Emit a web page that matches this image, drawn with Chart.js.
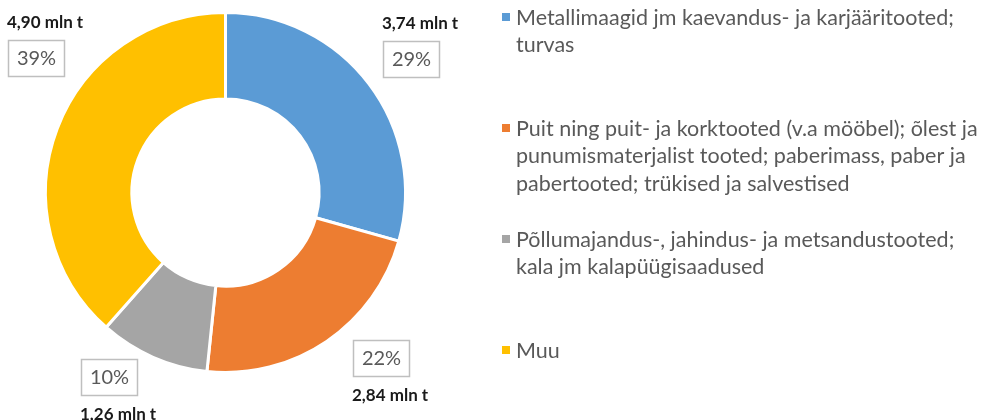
<!DOCTYPE html>
<html>
<head>
<meta charset="utf-8">
<script src="https://cdn.jsdelivr.net/npm/chart.js@4/dist/chart.umd.min.js"></script>
<style>
  html, body { margin: 0; padding: 0; background: #fff; }
  #wrap { width: 983px; height: 420px; position: relative; }
</style>
</head>
<body>
<div id="wrap"><canvas id="c"></canvas></div>
<script>
// Kaubagrupid (legendi read on käsitsi murtud nagu originaalis)
const categories = [
  ['Metallimaagid jm kaevandus- ja karjääritooted;', 'turvas'],
  ['Puit ning puit- ja korktooted (v.a mööbel); õlest ja', 'punumismaterjalist tooted; paberimass, paber ja', 'pabertooted; trükised ja salvestised'],
  ['Põllumajandus-, jahindus- ja metsandustooted;', 'kala jm kalapüügisaadused'],
  ['Muu'],
];
const tonnes = [3.74, 2.84, 1.26, 4.90];           // mln t
const percentLabels = ['29%', '22%', '10%', '39%'];
const colors = ['#5B9BD5', '#ED7D31', '#A5A5A5', '#FFC000'];

// Siltide asukoht: nurk (kraadid päripäeva ülevalt) ja kaugus raadiuse kordajana
const labelPlacement = [
  { angle: 54.4, dist: 1.27, value: 'above' },
  { angle: 136.8, dist: 1.258, value: 'below' },
  { angle: 212.2, dist: 1.214, value: 'below' },
  { angle: 305.4, dist: 1.29, value: 'above' },
];

const FONT = 'Lato, "Open Sans", sans-serif';
const fmt = (v) => v.toFixed(2).replace('.', ',') + ' mln t';

const sliceLabels = {
  id: 'sliceLabels',
  afterDatasetsDraw(chart) {
    const { ctx } = chart;
    const meta = chart.getDatasetMeta(0);
    ctx.save();
    meta.data.forEach((arc, i) => {
      const p = labelPlacement[i];
      const a = (p.angle - 90) * Math.PI / 180;
      const r = arc.outerRadius * p.dist;
      const cx = arc.x + Math.cos(a) * r;
      const cy = arc.y + Math.sin(a) * r;
      const bw = 56, bh = 36;
      const bx = Math.round(cx - bw / 2), by = Math.round(cy - bh / 2);
      ctx.lineWidth = 1.5;
      ctx.strokeStyle = '#BFBFBF';
      ctx.strokeRect(bx + 0.5, by + 0.5, bw, bh);
      ctx.fillStyle = '#595959';
      ctx.font = '20px ' + FONT;
      ctx.textAlign = 'center';
      ctx.textBaseline = 'middle';
      ctx.fillText(percentLabels[i], bx + bw / 2 + 0.5, by + bh / 2 + 1);
      ctx.fillStyle = '#1A1A1A';
      ctx.font = 'bold 17px ' + FONT;
      ctx.textAlign = 'left';
      ctx.textBaseline = 'alphabetic';
      const ty = p.value === 'above' ? by - 12 : by + bh + 25;
      ctx.fillText(fmt(tonnes[i]), bx - 1, ty);
    });
    ctx.restore();
  },
};

const sideLegend = {
  id: 'sideLegend',
  afterDraw(chart) {
    const { ctx } = chart;
    const ds = chart.data.datasets[0];
    ctx.save();
    ctx.font = '21.5px ' + FONT;
    ctx.textAlign = 'left';
    ctx.textBaseline = 'alphabetic';
    chart.data.labels.forEach((lines, i) => {
      const y0 = 25 + i * 111;
      ctx.fillStyle = ds.backgroundColor[i];
      ctx.fillRect(502, y0 - 12, 8, 8);
      ctx.fillStyle = '#595959';
      lines.forEach((t, li) => ctx.fillText(t, 516, y0 + li * 27.3));
    });
    ctx.restore();
  },
};

new Chart(document.getElementById('c'), {
  type: 'doughnut',
  data: {
    labels: categories,
    datasets: [{
      data: tonnes,
      backgroundColor: colors,
      borderColor: '#FFFFFF',
      borderWidth: 3,
      hoverOffset: 0,
    }],
  },
  options: {
    responsive: true,
    maintainAspectRatio: false,
    animation: false,
    cutout: '52%',
    layout: { padding: { left: 44, top: 11, right: 576, bottom: 46 } },
    plugins: {
      legend: { display: false },
      tooltip: { enabled: false },
    },
  },
  plugins: [sliceLabels, sideLegend],
});
</script>
</body>
</html>
